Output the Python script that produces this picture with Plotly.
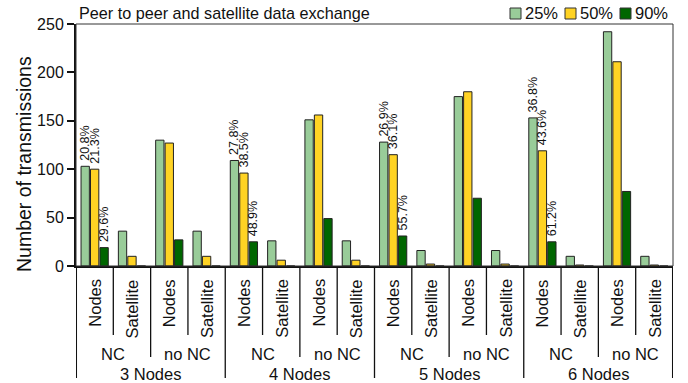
import plotly.graph_objects as go

# Category hierarchy (outer -> inner)
groups = ["3 Nodes", "4 Nodes", "5 Nodes", "6 Nodes"]
coding = ["NC", "no NC"]
sources = ["Nodes", "Satellite"]

# Number of transmissions per category, in hierarchy order
tx_25 = [103, 36, 130, 36, 109, 26, 151, 26, 128, 16, 175, 16, 153, 10, 242, 10]
tx_50 = [100, 10, 127, 10, 96, 6, 156, 6, 115, 2, 180, 2, 119, 1, 211, 1]
tx_90 = [19, 0, 27, 0, 25, 0, 49, 0, 31, 0, 70, 0, 25, 0, 77, 0]

# Savings shown above the NC / Nodes bars of each node group
pct_25 = ["20.8%", "27.8%", "26.9%", "36.8%"]
pct_50 = ["21.3%", "38.5%", "36.1%", "43.6%"]
pct_90 = ["29.6%", "48.9%", "55.7%", "61.2%"]

series_names = ["25%", "50%", "90%"]
series_colors = ["#99cc99", "#ffd324", "#006600"]

FONT = "Liberation Sans, Arial, sans-serif"
W, H = 688, 383
ML, MR, MT, MB = 76, 15, 24, 117
PW, PH = W - ML - MR, H - MT - MB


def px_x(p):
    """pixel column -> paper x"""
    return (p - ML) / PW


def px_y(p):
    """pixel row -> paper y"""
    return (H - MB - p) / PH


cats = []
for g in groups:
    for c in coding:
        for s in sources:
            cats.append((g, c, s))
xs = list(range(len(cats)))


def label_text(pcts):
    out = []
    for (g, c, s) in cats:
        if c == "NC" and s == "Nodes":
            out.append(pcts[groups.index(g)])
        else:
            out.append("")
    return out


fig = go.Figure()
for name, vals, pcts, color in zip(series_names, [tx_25, tx_50, tx_90],
                                   [pct_25, pct_50, pct_90], series_colors):
    fig.add_trace(go.Bar(
        x=xs, y=vals, name=name, showlegend=False,
        marker=dict(color=color, line=dict(color="#222222", width=1)),
        text=label_text(pcts),
        # thin space keeps the rotated label a little clear of the bar top
        texttemplate="\u2009%{text}",
        textposition="outside", textangle=-90,
        textfont=dict(family=FONT, size=12.5, color="#111111"),
        constraintext="none", cliponaxis=False,
    ))

annotations = []
shapes = []
txt_font = dict(family=FONT, size=16.5, color="#111")

# innermost labels (Nodes / Satellite)
for x, (g, c, s) in zip(xs, cats):
    annotations.append(dict(x=x, y=px_y(277), xref="x", yref="paper", text=s,
                            textangle=-90, xanchor="center", yanchor="top",
                            showarrow=False, font=txt_font))
# middle labels (NC / no NC)
for i in range(0, len(cats), 2):
    annotations.append(dict(x=i + 0.5, y=px_y(353.5), xref="x", yref="paper", text=cats[i][1],
                            xanchor="center", yanchor="middle", showarrow=False, font=txt_font))
# outer labels (node groups)
for i in range(0, len(cats), 4):
    annotations.append(dict(x=i + 1.5, y=px_y(373.5), xref="x", yref="paper", text=cats[i][0],
                            xanchor="center", yanchor="middle", showarrow=False, font=txt_font))

# separators between categories, longer for higher levels
for b in range(len(cats) + 1):
    if b % 4 == 0:
        y_end = px_y(378)
    elif b % 2 == 0:
        y_end = px_y(357)
    else:
        y_end = px_y(335)
    xb = min(max(b - 0.5, -0.49), len(cats) - 0.51)
    shapes.append(dict(type="line", xref="x", yref="paper", x0=xb, x1=xb, y0=0, y1=y_end,
                       line=dict(color="#111", width=1.3)))

# plot frame
shapes.append(dict(type="rect", xref="paper", yref="paper", x0=0, x1=1, y0=0, y1=1,
                   line=dict(color="#333", width=1), layer="above"))

# compact legend: swatch + label per series
legend_swatch_left = [510, 565, 620]
for name, color, left in zip(series_names, series_colors, legend_swatch_left):
    shapes.append(dict(type="rect", xref="paper", yref="paper",
                       x0=px_x(left), x1=px_x(left + 11), y0=px_y(19), y1=px_y(8),
                       fillcolor=color, line=dict(color="#333", width=1)))
    annotations.append(dict(x=px_x(left + 13), y=px_y(13.5), xref="paper", yref="paper",
                            text=name, xanchor="left", yanchor="middle", showarrow=False,
                            font=txt_font))

# chart title and axis title
annotations.append(dict(x=px_x(77), y=px_y(13), xref="paper", yref="paper",
                        text="Peer to peer and satellite data exchange",
                        xanchor="left", yanchor="middle", showarrow=False,
                        font=dict(family=FONT, size=16.2, color="#111")))
annotations.append(dict(x=px_x(24), y=px_y(164), xref="paper", yref="paper",
                        text="Number of transmissions", textangle=-90,
                        xanchor="center", yanchor="middle", showarrow=False,
                        font=dict(family=FONT, size=19.5, color="#111")))

fig.update_layout(
    width=W, height=H,
    margin=dict(l=ML, r=MR, t=MT, b=MB, autoexpand=False),
    paper_bgcolor="white", plot_bgcolor="white",
    barmode="group", bargap=0.24, bargroupgap=0.12,
    font=dict(family=FONT, color="#111"),
    showlegend=False,
    xaxis=dict(range=[-0.5, len(cats) - 0.5], showticklabels=False, ticks="",
               showgrid=False, zeroline=False, showline=True, linecolor="#111",
               linewidth=1.5, fixedrange=True),
    yaxis=dict(range=[0, 250], tickvals=[0, 50, 100, 150, 200, 250], ticks="outside",
               ticklen=7, tickwidth=1.5, tickcolor="#111", showgrid=False,
               zeroline=False, showline=True, linecolor="#111", linewidth=2,
               tickfont=dict(family=FONT, size=16, color="#111")),
    annotations=annotations, shapes=shapes,
)

fig.write_html("out.html")
